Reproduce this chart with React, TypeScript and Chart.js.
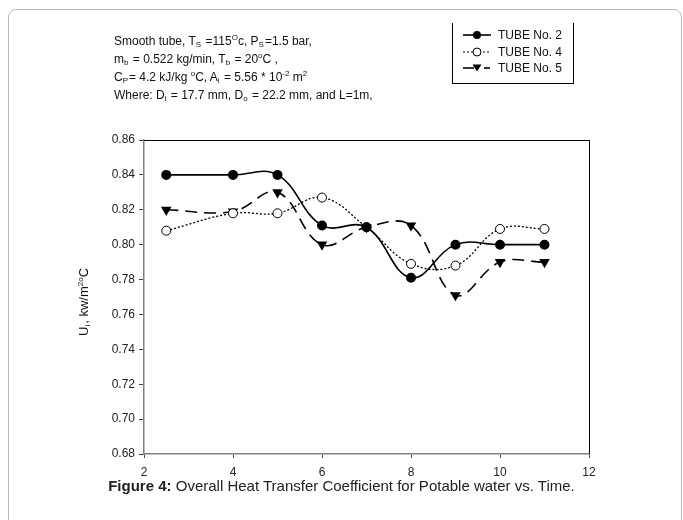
import React, { useEffect, useRef } from "react";
import { Chart, registerables } from "chart.js";

Chart.register(...registerables);

const timeValues = [2.5, 4, 5, 6, 7, 8, 9, 10, 11];
const tube2 = [0.84, 0.84, 0.84, 0.811, 0.81, 0.781, 0.8, 0.8, 0.8];
const tube4 = [0.808, 0.818, 0.818, 0.827, 0.81, 0.789, 0.788, 0.809, 0.809];
const tube5 = [0.82, 0.819, 0.83, 0.8, 0.81, 0.811, 0.771, 0.79, 0.79];
const seriesNames = ["TUBE No. 2", "TUBE No. 4", "TUBE No. 5"];
const xTicks = [2, 4, 6, 8, 10, 12];
const yMin = 0.68;
const yMax = 0.86;
const yStep = 0.02;

const FONT = "'Liberation Sans', Arial, Helvetica, sans-serif";

const toPoints = (ys: number[]) => timeValues.map((x, i) => ({ x, y: ys[i] }));

const frameBorder = {
  id: "frameBorder",
  afterDraw(chart: any) {
    const { ctx, chartArea } = chart;
    ctx.save();
    ctx.strokeStyle = "#000";
    ctx.lineWidth = 1;
    ctx.beginPath();
    ctx.moveTo(chartArea.left, chartArea.top + 0.5);
    ctx.lineTo(chartArea.right + 0.5, chartArea.top + 0.5);
    ctx.lineTo(chartArea.right + 0.5, chartArea.bottom);
    ctx.stroke();
    ctx.restore();
  },
};

const subStyle: React.CSSProperties = { fontSize: "8px", verticalAlign: "-2px", lineHeight: 0, marginRight: 1 };
const supStyle: React.CSSProperties = { fontSize: "8px", verticalAlign: "5px", lineHeight: 0 };

function LegendIcon({ kind }: { kind: number }) {
  return (
    <svg width="30" height="10" style={{ display: "block" }}>
      {kind === 0 && (
        <>
          <line x1="1" y1="5" x2="29" y2="5" stroke="#000" strokeWidth="1.6" />
          <circle cx="15" cy="5" r="4" fill="#000" />
        </>
      )}
      {kind === 1 && (
        <>
          <line x1="1" y1="5" x2="29" y2="5" stroke="#000" strokeWidth="1.2" strokeDasharray="2,2" />
          <circle cx="15" cy="5" r="4" fill="#fff" stroke="#000" strokeWidth="1" />
        </>
      )}
      {kind === 2 && (
        <>
          <line x1="1" y1="5" x2="12" y2="5" stroke="#000" strokeWidth="1.6" />
          <line x1="22" y1="5" x2="28" y2="5" stroke="#000" strokeWidth="1.6" />
          <polygon points="10.5,1.5 19.5,1.5 15,8.5" fill="#000" />
        </>
      )}
    </svg>
  );
}

export default function App() {
  const canvasRef = useRef<HTMLCanvasElement | null>(null);

  useEffect(() => {
    if (!canvasRef.current) return;
    const chart = new Chart(canvasRef.current, {
      type: "line",
      data: {
        datasets: [
          {
            label: seriesNames[0],
            data: toPoints(tube2),
            borderColor: "#000",
            backgroundColor: "#000",
            borderWidth: 1.6,
            pointStyle: "circle",
            pointRadius: 4.2,
            pointBackgroundColor: "#000",
            pointBorderColor: "#000",
            tension: 0.4,
          },
          {
            label: seriesNames[1],
            data: toPoints(tube4),
            borderColor: "#000",
            backgroundColor: "#fff",
            borderWidth: 1.3,
            borderDash: [2, 2],
            pointStyle: "circle",
            pointRadius: 4.5,
            pointBackgroundColor: "#fff",
            pointBorderColor: "#000",
            pointBorderWidth: 1,
            tension: 0.4,
          },
          {
            label: seriesNames[2],
            data: toPoints(tube5),
            borderColor: "#000",
            backgroundColor: "#000",
            borderWidth: 1.6,
            borderDash: [12, 7],
            pointStyle: "triangle",
            rotation: 180,
            pointRadius: 4.5,
            pointBackgroundColor: "#000",
            pointBorderColor: "#000",
            tension: 0.4,
          },
        ],
      },
      options: {
        animation: false,
        responsive: false,
        devicePixelRatio: 1,
        layout: { padding: { left: 0, right: 94, top: 140, bottom: 0 } },
        plugins: { legend: { display: false }, tooltip: { enabled: false }, title: { display: false } },
        scales: {
          x: {
            type: "linear",
            min: 2,
            max: 12,
            afterFit: (s: any) => { s.height = 66; },
            afterBuildTicks: (s: any) => { s.ticks = xTicks.map((v) => ({ value: v })); },
            grid: { drawOnChartArea: false, drawTicks: true, tickLength: 4, color: "#444" },
            border: { display: true, color: "#808080", width: 1.5 },
            ticks: { color: "#222", font: { family: FONT, size: 12 }, padding: 7, maxRotation: 0 },
          },
          y: {
            type: "linear",
            min: yMin,
            max: yMax,
            afterFit: (s: any) => { s.width = 144; },
            grid: { drawOnChartArea: false, drawTicks: true, tickLength: 5, color: "#444" },
            border: { display: true, color: "#808080", width: 1.5 },
            ticks: {
              stepSize: yStep,
              color: "#222",
              font: { family: FONT, size: 12 },
              padding: 4,
              callback: (v: any) => Number(v).toFixed(2),
            },
          },
        },
      },
      plugins: [frameBorder],
    });
    return () => chart.destroy();
  }, []);

  return (
    <div style={{ position: "absolute", left: 0, top: 0, width: 683, height: 520, overflow: "hidden", background: "#fff", fontFamily: FONT, color: "#111" }}>
      <div style={{ position: "absolute", left: 8, top: 9, width: 672, height: 540, border: "1px solid #bbb", borderRadius: 8 }} />
      <canvas ref={canvasRef} width={683} height={520} style={{ position: "absolute", left: 0, top: 0, width: 683, height: 520 }} />
      <div style={{ position: "absolute", left: 114, top: 32, fontSize: 12, lineHeight: "18px", whiteSpace: "nowrap" }}>
        <div>Smooth tube, T<span style={subStyle}>S</span> =115<span style={supStyle}>O</span>c, P<span style={subStyle}>S</span>=1.5 bar,</div>
        <div>m<span style={subStyle}>b</span> = 0.522 kg/min, T<span style={subStyle}>b</span> = 20<span style={supStyle}>o</span>C ,</div>
        <div>C<span style={subStyle}>P</span>= 4.2 kJ/kg <span style={supStyle}>o</span>C, A<span style={subStyle}>i</span> = 5.56 * 10<span style={supStyle}>-2</span> m<span style={supStyle}>2</span></div>
        <div>Where: D<span style={subStyle}>i</span> = 17.7 mm, D<span style={subStyle}>o</span> = 22.2 mm, and L=1m,</div>
      </div>
      <div style={{ position: "absolute", left: 452, top: 23, width: 120, height: 60, borderLeft: "1.5px solid #000", borderRight: "1.5px solid #000", borderBottom: "1.5px solid #000" }}>
        {seriesNames.map((n, i) => (
          <div key={n} style={{ position: "absolute", left: 9, top: 5 + i * 16.5, display: "flex", alignItems: "center", fontSize: 12, whiteSpace: "nowrap" }}>
            <LegendIcon kind={i} />
            <span style={{ marginLeft: 6 }}>{n}</span>
          </div>
        ))}
      </div>
      <div style={{ position: "absolute", left: 34, top: 293, width: 100, height: 18, lineHeight: "18px", textAlign: "center", transform: "rotate(-90deg)", transformOrigin: "50px 9px", fontSize: 13, fontWeight: 400, whiteSpace: "nowrap" }}>
        U<span style={subStyle}>i</span>, kw/m<span style={supStyle}>2o</span>C
      </div>
      <div style={{ position: "absolute", left: 0, width: 683, top: 477, textAlign: "center", fontSize: 15, lineHeight: "18px", whiteSpace: "nowrap", color: "#222" }}>
        <b>Figure 4:</b> Overall Heat Transfer Coefficient for Potable water vs. Time.
      </div>
    </div>
  );
}
